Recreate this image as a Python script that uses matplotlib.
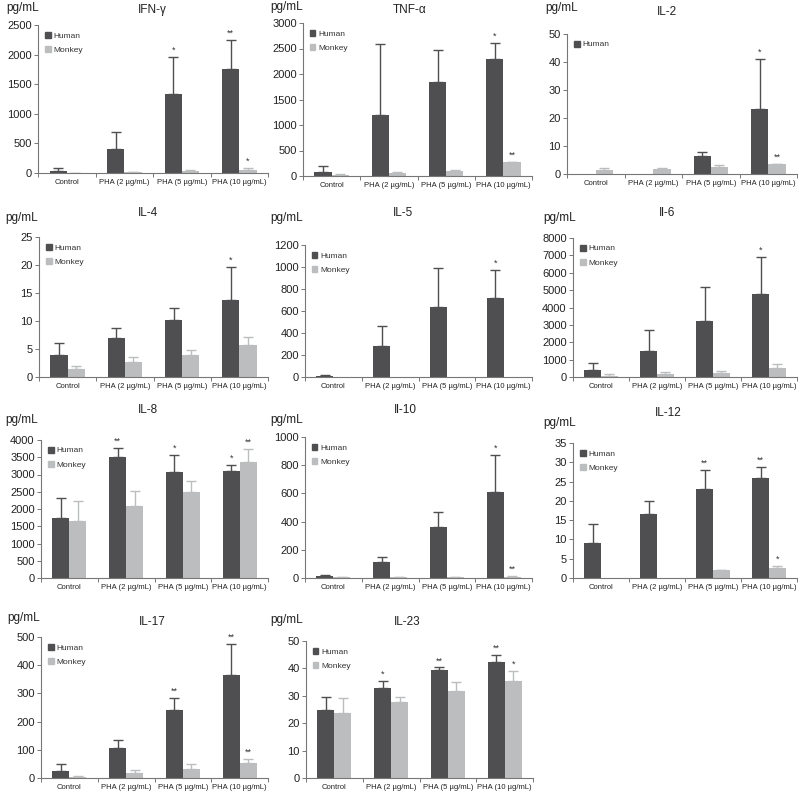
import matplotlib
matplotlib.use("Agg")
import matplotlib.pyplot as plt
from matplotlib.patches import Patch
import numpy as np

plt.rcParams['font.family'] = ['Liberation Sans', 'DejaVu Sans']

W, H = 800, 794

groups = ["Control", "PHA (2 µg/mL)", "PHA (5 µg/mL)", "PHA (10 µg/mL)"]

# cytokine data: mean and upper error-bar end, per group
ifn_human = [40, 410, 1330, 1760]
ifn_human_err = [90, 690, 1960, 2250]
ifn_monkey = [5, 10, 30, 55]
ifn_monkey_err = [8, 14, 45, 90]
ifn_stars_h = ["", "", "*", "**"]
ifn_stars_m = ["", "", "", "*"]

tnf_human = [80, 1200, 1840, 2300]
tnf_human_err = [200, 2580, 2480, 2600]
tnf_monkey = [25, 65, 105, 275]
tnf_monkey_err = [35, 75, 115, 282]
tnf_stars_h = ["", "", "", "*"]
tnf_stars_m = ["", "", "", "**"]

il2_human = [0, 0, 6.4, 23.1]
il2_human_err = [0, 0, 8.0, 41]
il2_monkey = [1.6, 1.8, 2.4, 3.5]
il2_monkey_err = [2.1, 2.0, 3.1, 3.7]
il2_stars_h = ["", "", "", "*"]
il2_stars_m = ["", "", "", "**"]

il4_human = [3.9, 6.9, 10.1, 13.7]
il4_human_err = [6.1, 8.7, 12.4, 19.6]
il4_monkey = [1.5, 2.7, 3.9, 5.8]
il4_monkey_err = [2.0, 3.6, 4.8, 7.1]
il4_stars_h = ["", "", "", "*"]
il4_stars_m = ["", "", "", ""]

il5_human = [5, 280, 640, 715]
il5_human_err = [15, 468, 988, 976]
il5_monkey = [0, 0, 0, 0]
il5_monkey_err = [0, 0, 0, 0]
il5_stars_h = ["", "", "", "*"]
il5_stars_m = ["", "", "", ""]

il6_human = [430, 1470, 3220, 4750]
il6_human_err = [790, 2730, 5200, 6900]
il6_monkey = [80, 150, 210, 500]
il6_monkey_err = [170, 290, 360, 750]
il6_stars_h = ["", "", "", "*"]
il6_stars_m = ["", "", "", ""]

il8_human = [1750, 3500, 3060, 3100]
il8_human_err = [2310, 3780, 3560, 3280]
il8_monkey = [1650, 2100, 2500, 3350]
il8_monkey_err = [2235, 2530, 2820, 3750]
il8_stars_h = ["", "**", "*", "*"]
il8_stars_m = ["", "", "", "**"]

il10_human = [12, 110, 362, 610]
il10_human_err = [20, 152, 465, 875]
il10_monkey = [5, 5, 5, 10]
il10_monkey_err = [7, 7, 7, 16]
il10_stars_h = ["", "", "", "*"]
il10_stars_m = ["", "", "", "**"]

il12_human = [9.0, 16.5, 23.0, 26.0]
il12_human_err = [13.9, 20.0, 28.1, 28.9]
il12_monkey = [0, 0, 2.0, 2.7]
il12_monkey_err = [0, 0, 2.2, 3.1]
il12_stars_h = ["", "", "**", "**"]
il12_stars_m = ["", "", "", "*"]

il17_human = [26, 105, 241, 365]
il17_human_err = [51, 134, 283, 475]
il17_monkey = [5, 19, 32, 53]
il17_monkey_err = [7, 27, 48, 69]
il17_stars_h = ["", "", "**", "**"]
il17_stars_m = ["", "", "", "**"]

il23_human = [24.8, 32.8, 39.3, 42.2]
il23_human_err = [29.4, 35.5, 40.4, 44.8]
il23_monkey = [23.8, 27.8, 31.9, 35.3]
il23_monkey_err = [29.3, 29.7, 35.0, 39.2]
il23_stars_h = ["", "*", "**", "**"]
il23_stars_m = ["", "", "", "*"]

DARK = "#4f4f51"
LIGHT = "#bcbdbf"

fig = plt.figure(figsize=(W / 100, H / 100), dpi=100)


def px_axes(l, r, t, b):
    return fig.add_axes([l / W, 1 - b / H, (r - l) / W, (b - t) / H])


def panel(box, title, title_xy, unit_xy, ymax, ystep, hum, hum_err, mon, mon_err,
          st_h, st_m, legend_labels=("Human", "Monkey")):
    ax = px_axes(*box)
    x = np.arange(len(groups))
    w = 0.3
    hum = np.array(hum, float)
    mon = np.array(mon, float)
    up_h = np.array(hum_err, float) - hum
    up_m = np.array(mon_err, float) - mon
    ax.bar(x - w / 2, hum, w, color=DARK, zorder=2)
    ax.bar(x + w / 2, mon, w, color=LIGHT, zorder=2)
    for xs, vals, up, col in [(x - w / 2, hum, up_h, DARK), (x + w / 2, mon, up_m, LIGHT)]:
        mask = up > 0
        ax.errorbar(xs[mask], vals[mask], yerr=[np.zeros(mask.sum()), up[mask]],
                    fmt="none", ecolor=col, elinewidth=1.0, capsize=3.5,
                    capthick=1.0, zorder=1)
    off = ymax * 0.015
    for i in range(len(groups)):
        if st_h[i]:
            ax.text(x[i] - w / 2, hum_err[i] + off, st_h[i], ha="center",
                    va="bottom", fontsize=6.5, color="#333333")
        if st_m[i]:
            ax.text(x[i] + w / 2, mon_err[i] + off, st_m[i], ha="center",
                    va="bottom", fontsize=6.5, color="#333333")

    ax.set_xlim(-0.5, len(groups) - 0.5)
    ax.set_ylim(0, ymax)
    ax.set_yticks(np.arange(0, ymax + ystep / 2, ystep))
    ax.set_xticks(np.arange(-0.5, len(groups)), labels=[""] * (len(groups) + 1))
    ax.set_xticks(x, labels=groups, minor=True)
    ax.tick_params(axis="x", which="major", length=3, width=0.7, color="#777777", direction="out")
    ax.tick_params(axis="x", which="minor", length=0, labelsize=5.5, pad=4, labelcolor="#222222")
    ax.tick_params(axis="y", length=3, width=0.7, color="#777777", labelsize=8,
                   pad=1.5, labelcolor="#222222")
    for s in ["top", "right"]:
        ax.spines[s].set_visible(False)
    for s in ["left", "bottom"]:
        ax.spines[s].set_color("#777777")
        ax.spines[s].set_linewidth(0.8)

    handles = [Patch(color=DARK, label="Human"), Patch(color=LIGHT, label="Monkey")]
    handles = [h for h in handles if h.get_label() in legend_labels]
    ax.legend(handles=handles, loc="upper left", frameon=False, fontsize=6,
              handlelength=0.7, handleheight=0.7, handletextpad=0.3,
              labelspacing=0.8, borderaxespad=0.4, labelcolor="#333333")

    fig.text(title_xy[0] / W, 1 - title_xy[1] / H, title, ha="center", va="center",
             fontsize=8.5, color="#222222")
    fig.text(unit_xy[0] / W, 1 - unit_xy[1] / H, "pg/mL", ha="left", va="center",
             fontsize=8.5, color="#222222")
    return ax


panel((38, 268, 25, 173), "IFN-γ", (152, 10), (6, 8), 2500, 500,
      ifn_human, ifn_human_err, ifn_monkey, ifn_monkey_err, ifn_stars_h, ifn_stars_m)
panel((303, 532, 23, 176), "TNF-α", (410, 10), (270, 7), 3000, 500,
      tnf_human, tnf_human_err, tnf_monkey, tnf_monkey_err, tnf_stars_h, tnf_stars_m)
panel((567, 797, 34, 174), "IL-2", (667, 12), (545, 8), 50, 10,
      il2_human, il2_human_err, il2_monkey, il2_monkey_err, il2_stars_h, il2_stars_m,
      legend_labels=("Human",))

panel((39, 268, 237, 377), "IL-4", (148, 213), (5, 218), 25, 5,
      il4_human, il4_human_err, il4_monkey, il4_monkey_err, il4_stars_h, il4_stars_m)
panel((305, 532, 245, 377), "IL-5", (403, 213), (270, 218), 1200, 200,
      il5_human, il5_human_err, il5_monkey, il5_monkey_err, il5_stars_h, il5_stars_m)
panel((573, 797, 238, 377), "Il-6", (667, 213), (543, 218), 8000, 1000,
      il6_human, il6_human_err, il6_monkey, il6_monkey_err, il6_stars_h, il6_stars_m)

panel((41, 268, 440, 578), "IL-8", (148, 410), (5, 420), 4000, 500,
      il8_human, il8_human_err, il8_monkey, il8_monkey_err, il8_stars_h, il8_stars_m)
panel((305, 532, 437, 578), "Il-10", (405, 410), (270, 420), 1000, 200,
      il10_human, il10_human_err, il10_monkey, il10_monkey_err, il10_stars_h, il10_stars_m)
panel((573, 797, 443, 578), "IL-12", (668, 413), (543, 423), 35, 5,
      il12_human, il12_human_err, il12_monkey, il12_monkey_err, il12_stars_h, il12_stars_m)

panel((41, 268, 637, 778), "IL-17", (152, 622), (7, 618), 500, 100,
      il17_human, il17_human_err, il17_monkey, il17_monkey_err, il17_stars_h, il17_stars_m)
panel((306, 533, 641, 778), "IL-23", (407, 622), (270, 620), 50, 10,
      il23_human, il23_human_err, il23_monkey, il23_monkey_err, il23_stars_h, il23_stars_m)

fig.savefig("out.png", dpi=100)
